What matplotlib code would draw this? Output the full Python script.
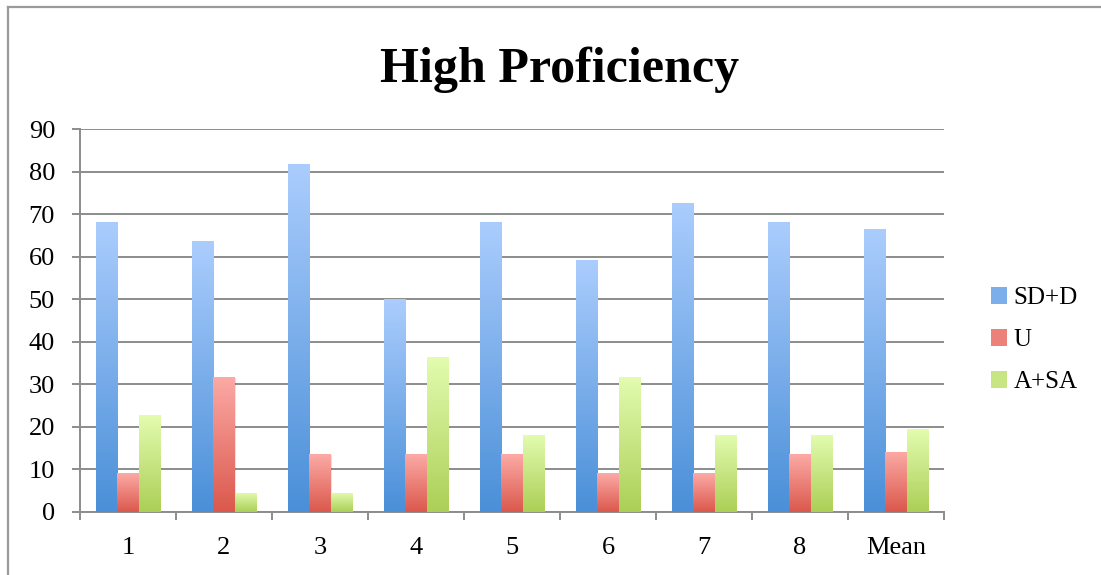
import numpy as np
import matplotlib
matplotlib.use("Agg")
import matplotlib.pyplot as plt
from matplotlib.colors import LinearSegmentedColormap
from matplotlib.patches import Patch, Rectangle
from matplotlib.lines import Line2D

plt.rcParams['font.family'] = ['Liberation Serif', 'DejaVu Serif']

categories = ["1", "2", "3", "4", "5", "6", "7", "8", "Mean"]
series_names = ["SD+D", "U", "A+SA"]
sd_d = [68.2, 63.6, 81.8, 50.0, 68.2, 59.1, 72.7, 68.2, 66.5]
u = [9.1, 31.8, 13.6, 13.6, 13.6, 9.1, 9.1, 13.6, 14.2]
a_sa = [22.7, 4.5, 4.5, 36.4, 18.2, 31.8, 18.2, 18.2, 19.4]
yticks = [0, 10, 20, 30, 40, 50, 60, 70, 80, 90]

# (top colour, bottom colour) for each series' vertical gradient
gradients = [("#abcdfd", "#4a8fd8"),
             ("#fcaaa6", "#db584c"),
             ("#e3fcb0", "#abcf56")]

W, H = 1101, 575
fig = plt.figure(figsize=(W / 100, H / 100), dpi=100)
ax = fig.add_axes([80 / W, 1 - 512 / H, 864 / W, 383 / H])

x = np.arange(len(categories))
bw = 0.224
offsets = [-bw, 0.0, bw]
grad = np.linspace(1, 0, 256).reshape(-1, 1)

for vals, off, (top, bot) in zip([sd_d, u, a_sa], offsets, gradients):
    cmap = LinearSegmentedColormap.from_list("g", [bot, top])
    bars = ax.bar(x + off, vals, width=bw, color="none", edgecolor="none", zorder=3)
    for b in bars:
        bx, by = b.get_x(), b.get_y()
        bwid, bh = b.get_width(), b.get_height()
        # soft drop shadow on the right
        sh = Rectangle((bx + 0.012, by), bwid, bh - 0.25, facecolor="#000000",
                       alpha=0.10, edgecolor="none", zorder=2.5)
        ax.add_patch(sh)
        im = ax.imshow(grad, cmap=cmap, aspect="auto",
                       extent=[bx, bx + bwid, by, by + bh],
                       origin="upper", zorder=3, interpolation="bicubic")
        im.set_clip_path(b)

ax.set_xlim(-0.5, len(categories) - 0.5)
ax.set_ylim(0, 90)
ax.set_yticks(yticks)
ax.set_xticks(x)
ax.set_xticklabels(categories)
ax.set_xticks(np.arange(len(categories) + 1) - 0.5, minor=True)

grid_c = "#8c8c8c"
ax.yaxis.grid(True, color=grid_c, linewidth=1.4, zorder=1)
ax.set_axisbelow(True)
for s in ["top", "right"]:
    ax.spines[s].set_visible(False)
for s in ["left", "bottom"]:
    ax.spines[s].set_color(grid_c)
    ax.spines[s].set_linewidth(1.4)

ax.tick_params(axis="y", which="major", length=6, width=1.4, color=grid_c,
               labelsize=19, pad=12)
ax.tick_params(axis="x", which="major", length=0, labelsize=19, pad=18)
ax.tick_params(axis="x", which="minor", length=6, width=1.4, color=grid_c,
               direction="out")

fig.text(560 / W, 1 - 70 / H, "High Proficiency", ha="center", va="center",
         fontsize=36, fontweight="bold")

handles = [Patch(facecolor=LinearSegmentedColormap.from_list("h", [c[1], c[0]])(0.5),
                 edgecolor="none") for c in gradients]
fig.legend(handles, series_names, loc="center left",
           bbox_to_anchor=(991 / W, 1 - 340 / H), frameon=False,
           fontsize=18, handlelength=0.65, handleheight=0.65,
           handletextpad=0.25, labelspacing=0.8, borderpad=0, borderaxespad=0)

# outer chart frame (left and top edges)
border_c = "#9a9a9a"
fig.add_artist(Line2D([8 / W, 8 / W], [0, 1 - 7 / H], color=border_c, linewidth=1.6,
                      transform=fig.transFigure))
fig.add_artist(Line2D([8 / W, 1], [1 - 7 / H, 1 - 7 / H], color=border_c, linewidth=1.6,
                      transform=fig.transFigure))

fig.savefig("out.png", dpi=100, facecolor="white")
